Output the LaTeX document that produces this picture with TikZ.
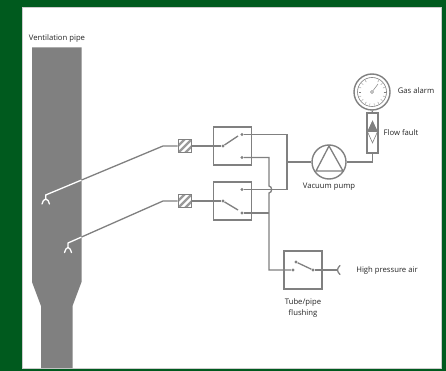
\documentclass[tikz,border=0pt]{standalone}
\usepackage{fontspec}
\setmainfont{Open Sans}
\usepackage{tikz}
\usetikzlibrary{arrows.meta,positioning,calc,shapes.geometric}
\definecolor{framegreen}{HTML}{005A1E}
\definecolor{pipegrey}{HTML}{808080}
\tikzset{
  pipe/.style={draw=pipegrey, line width=1.3pt},
  thick pipe/.style={draw=pipegrey, line width=1.8pt},
  inpipe/.style={draw=white, line width=1.3pt},
  box/.style={rectangle, draw=pipegrey, line width=1.4pt, minimum size=38pt, inner sep=0pt},
  filterbox/.style={rectangle, draw=pipegrey, line width=1.4pt, minimum size=13.5pt, inner sep=0pt},
  contact/.style={circle, fill=pipegrey, inner sep=0pt, minimum size=3.2pt},
  lbl/.style={font=\fontsize{7.7}{10.8}\selectfont, text=black!85, align=center}
}

\begin{document}
\begin{tikzpicture}[x=1pt,y=-1pt]

\useasboundingbox (0,0) rectangle (446,371);
\fill[framegreen] (0,0) rectangle (446,371);
\fill[white, draw=black!20, line width=1pt] (22,8) rectangle (441,368);

% ventilation pipe
\fill[pipegrey] (32,47.5) -- (81.5,47.5) -- (81.5,282) -- (72.5,306) -- (72.5,368)
  -- (41,368) -- (41,306) -- (32,282) -- cycle;
\node[lbl] (ventlbl) at (57,39) {Ventilation pipe};

% boxes
\node[box] (sw1) at (232.5,146) {};
\node[box] (sw2) at (232.5,201) {};
\node[box] (flush) at (303,270) {};
\foreach \f/\y in {filt1/146,filt2/201}{
  \begin{scope}
    \clip (178.2,\y-6.8) rectangle (191.8,\y+6.8);
    \foreach \d in {-7,0,7}
      \draw[pipegrey!80, line width=2.4pt] (178+\d,\y+7) -- (192+\d,\y-7);
  \end{scope}
  \node[filterbox] (\f) at (185,\y) {};
}

% contacts
\node[contact] (in1) at (223,146) {};
\node[contact] (up1) at (242,134.5) {};
\node[contact] (lo1) at (242,157.5) {};
\node[contact] (in2) at (223,201) {};
\node[contact] (up2) at (242,189.5) {};
\node[contact] (lo2) at (242,213) {};
\node[contact] (in3) at (293,270) {};
\node[contact] (up3) at (296,262) {};
\node[contact] (lo3) at (313,270) {};
\node[contact, minimum size=2pt] (tee) at (287,162) {};

% pump, gauge, flow
\node[circle, draw=pipegrey, line width=1.4pt, minimum size=34pt, inner sep=0pt] (pump) at (329,162) {};
\draw[draw=pipegrey, line width=1.3pt] (329,146) -- (343,171) -- (316,171) -- cycle;
\node[circle, draw=pipegrey, line width=1.4pt, minimum size=36pt, inner sep=0pt] (gauge) at (372,92) {};
\node[circle, draw=pipegrey, line width=.6pt, minimum size=29pt, inner sep=0pt] at (372,92) {};
\foreach \a in {-60,-40,...,240}{
  \draw[pipegrey, line width=.35pt] ($(gauge.center)+(\a:11.5)$) -- ($(gauge.center)+(\a:13.5)$);
}
\node[circle, draw=pipegrey, line width=.5pt, minimum size=3pt, inner sep=0pt, fill=white] (hub) at (372,92) {};
\coordinate (tip) at (378,84);
\draw[pipegrey, line width=.5pt] (hub) -- (tip);
\node[rectangle, draw=pipegrey, line width=1.4pt, minimum width=11pt, minimum height=40pt, inner sep=0pt] (flow) at (372.5,133) {};
\node[diamond, draw=pipegrey, line width=.6pt, minimum width=10pt, minimum height=22pt, inner sep=0pt] (dia) at (372.5,132) {};
\fill[pipegrey] (dia.north) -- (dia.east) -- (dia.west) -- cycle;

% suction lines
\coordinate (probe1) at (45.7,195);
\coordinate (knee1) at (163,146);
\coordinate (probe2) at (68,243);
\coordinate (knee2) at (163,201);
\coordinate (edge1) at ($(probe1)!.305!(knee1)$);
\coordinate (edge2) at ($(probe2)!.142!(knee2)$);
\draw[inpipe] (45.7,200) -- (probe1) -- (edge1);
\draw[pipe] (edge1) -- (knee1) -- (filt1);
\draw[inpipe] (68,248) -- (probe2) -- (edge2);
\draw[pipe] (edge2) -- (knee2) -- (filt2);
\draw[inpipe, line cap=round] (42,204) .. controls (42.5,201) and (44,199.5) .. (45.7,199) .. controls (47.5,199.5) and (49,201) .. (49.5,204);
\draw[inpipe, line cap=round] (64.5,252.5) .. controls (65,249.5) and (66.5,248) .. (68,247.5) .. controls (69.5,248) and (71,249.5) .. (71.5,252.5);

\draw[thick pipe] (filt1) -- (in1);
\draw[thick pipe] (filt2) -- (in2);

% switch blades
\draw[pipe] (in1) -- (238,136);
\draw[pipe] (in2) -- (238,210);
\draw[pipe] (up3) -- (lo3);

% outlets
\coordinate (c1) at (287,134.5);
\coordinate (c2) at (287,189.5);
\coordinate (c3) at (269,157.5);
\coordinate (c4) at (269,186);
\coordinate (c5) at (269,193);
\coordinate (c6) at (269,213);
\coordinate (c7) at (269,270);
\coordinate (c8) at (372.5,162);
\draw[pipe] (up1) -- (c1) -- (c2) -- (up2);
\draw[pipe] (lo1) -- (c3) -- (c4) .. controls (272.5,186.5) and (272.5,192.5) .. (c5) -- (c7) -- (in3);
\draw[thick pipe] (lo2) -- (c6);
\draw[thick pipe] (tee) -- (pump);
\draw[pipe] (pump) -- (c8) -- (flow);
\draw[pipe] (flow) -- (gauge);

% flushing inlet
\coordinate (inlet) at (337,270);
\draw[thick pipe] (lo3) -- (inlet);
\draw[pipe, line cap=round] (340,265.5) .. controls (338.5,267) and (337.5,268.5) .. (337.5,270) .. controls (337.5,271.5) and (338.5,273) .. (340,274.5);

% labels
\node[lbl] (pumplbl) at (329,187) {Vacuum pump};
\node[lbl] (alarmlbl) at (416,90.5) {Gas alarm};
\node[lbl] (faultlbl) at (401,133) {Flow fault};
\node[lbl] (airlbl) at (387,270) {High pressure air};
\node[lbl] (flushlbl) at (303,308) {Tube/pipe\\flushing};

\end{tikzpicture}
\end{document}
